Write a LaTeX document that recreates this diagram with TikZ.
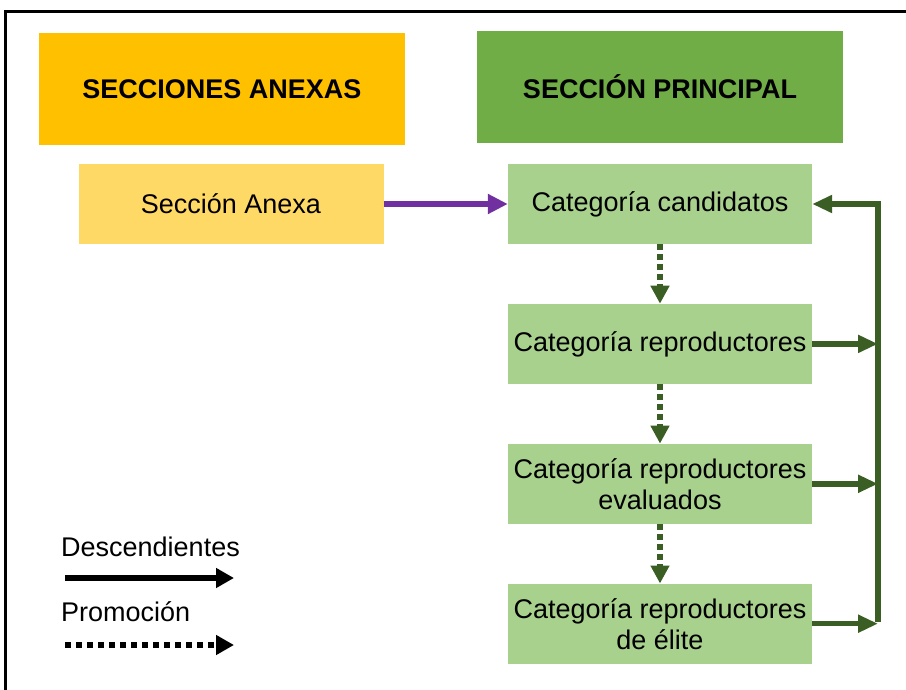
\documentclass[tikz,border=0pt]{standalone}
\usepackage{fontspec}
\setmainfont{Liberation Sans}
\usetikzlibrary{positioning,arrows.meta}

\definecolor{anexoorange}{HTML}{FFC000}
\definecolor{anexoyellow}{HTML}{FFD966}
\definecolor{principalgreen}{HTML}{70AD47}
\definecolor{catgreen}{HTML}{A9D18E}
\definecolor{darkgreen}{HTML}{3B5E25}
\definecolor{anexopurple}{HTML}{7030A0}

\tikzset{
  box/.style={inner sep=0pt, align=center, font=\fontsize{27}{31}\selectfont},
  headbox/.style={box, minimum width=366pt, minimum height=112pt, font=\fontsize{27}{31}\selectfont\bfseries},
  catbox/.style={box, fill=catgreen, minimum width=304pt, minimum height=80pt},
  promo/.style={darkgreen, line width=6pt, dash pattern=on 6pt off 4pt,
    -{Triangle[length=18pt, width=18pt, sep=0pt]}},
  desc/.style={darkgreen, line width=5.5pt, -{Triangle[length=20pt, width=17pt]}}
}

\begin{document}
\begin{tikzpicture}[x=1pt, y=-1pt]
\useasboundingbox (0,0) rectangle (906,690);
\draw[line width=3pt] (5,690) -- (5,12) -- (906,12);

% cabeceras
\node[headbox, fill=anexoorange] (anexas) at (222,89) {SECCIONES ANEXAS};
\node[headbox, fill=principalgreen] (principal) at (660,87) {SECCIÓN PRINCIPAL};

\node[box, fill=anexoyellow, minimum width=305pt, minimum height=80pt] (anexa) at (231,204) {Sección Anexa};

% categorias
\node[catbox] (cand) at (660,204) {Categoría candidatos};
\node[catbox, below=59.5pt of cand] (repro) {Categoría reproductores};
\node[catbox, below=59.5pt of repro] (eval) {Categoría reproductores\\evaluados};
\node[catbox, below=59.5pt of eval] (elite) {Categoría reproductores\\de élite};

\draw[anexopurple, line width=6pt, -{Triangle[length=20pt, width=19pt]}] (anexa) -- (cand);

\draw[promo] (cand) -- (repro);
\draw[promo] (repro) -- (eval);
\draw[promo] (eval) -- (elite);

\coordinate (btop) at (878,204);
\coordinate (bbot) at (878,622);
\draw[desc] (bbot) -- (btop) -- (cand.east);
\draw[desc] (repro.east) -- (repro.east -| btop);
\draw[desc] (eval.east) -- (eval.east -| btop);
\draw[desc] (elite.east) -- (elite.east -| btop);

% leyenda
\node[box, anchor=west] (ldesc) at (61,547) {Descendientes};
\coordinate (d1) at (65,578);
\coordinate (d2) at (234,578);
\draw[line width=6pt, -{Triangle[length=18pt, width=19pt]}] (d1) -- (d2);
\node[box, anchor=west] (lpromo) at (61,612) {Promoción};
\coordinate (p1) at (65,645);
\coordinate (p2) at (234,645);
\draw[line width=6pt, dash pattern=on 6pt off 5pt, -{Triangle[length=18pt, width=19pt, sep=0pt]}] (p1) -- (p2);
\end{tikzpicture}
\end{document}
